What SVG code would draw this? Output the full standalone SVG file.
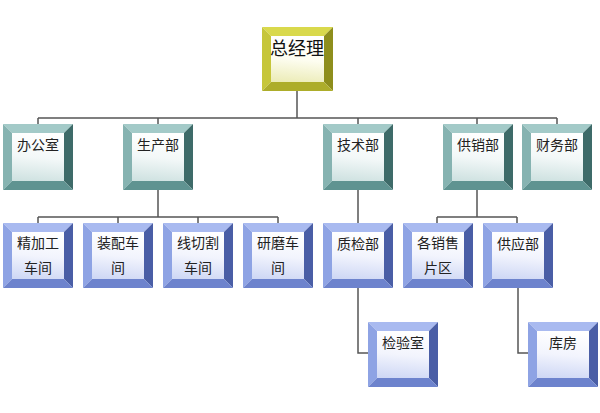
<svg xmlns="http://www.w3.org/2000/svg" xmlns:xlink="http://www.w3.org/1999/xlink" width="600" height="413" viewBox="0 0 600 413">
<defs>
<style>
.t{font-family:"Noto Sans CJK SC","Liberation Sans",sans-serif;font-size:14px;fill:#222;text-anchor:middle}
.tt{font-size:18px;fill:#111}
.c{fill:none;stroke:#555;stroke-width:1.5}
</style>
<linearGradient id="gy" x1="0.4" y1="0" x2="0.3" y2="1"><stop offset="0" stop-color="#ffffff"/><stop offset="0.5" stop-color="#fdfdf0"/><stop offset="1" stop-color="#ececb8"/></linearGradient>
<linearGradient id="gt" x1="0.4" y1="0" x2="0.3" y2="1"><stop offset="0" stop-color="#ffffff"/><stop offset="0.5" stop-color="#f3f8f8"/><stop offset="1" stop-color="#cfe2e1"/></linearGradient>
<linearGradient id="gb" x1="0.4" y1="0" x2="0.3" y2="1"><stop offset="0" stop-color="#ffffff"/><stop offset="0.5" stop-color="#f2f4fd"/><stop offset="1" stop-color="#cfd8f5"/></linearGradient>
<g id="ybox">
<polygon points="0,0 71,0 62,9 9,9" fill="#d9d94c"/>
<polygon points="0,0 9,9 9,55 0,64" fill="#c6c63a"/>
<polygon points="71,0 71,64 62,55 62,9" fill="#8e8e1c"/>
<polygon points="0,64 71,64 62,55 9,55" fill="#adad2a"/>
<rect x="9" y="9" width="53" height="46" fill="url(#gy)"/>
</g>
<g id="tbox">
<polygon points="0,0 70,0 61,9 9,9" fill="#a3cac8"/>
<polygon points="0,0 9,9 9,57 0,66" fill="#86b3b1"/>
<polygon points="70,0 70,66 61,57 61,9" fill="#3e6b69"/>
<polygon points="0,66 70,66 61,57 9,57" fill="#5f9391"/>
<rect x="9" y="9" width="52" height="48" fill="url(#gt)"/>
</g>
<g id="bbox">
<polygon points="0,0 70,0 61,9 9,9" fill="#a9baf0"/>
<polygon points="0,0 9,9 9,56 0,65" fill="#8ea3e4"/>
<polygon points="70,0 70,65 61,56 61,9" fill="#4a5ea6"/>
<polygon points="0,65 70,65 61,56 9,56" fill="#6d83cd"/>
<rect x="9" y="9" width="52" height="47" fill="url(#gb)"/>
</g>
</defs>
<rect width="600" height="413" fill="#ffffff"/>
<g id="connectors">
<path class="c" d="M297 91V118M38 118H557M38 118V124M158 118V124M358 118V124M477 118V124M557 118V124"/>
<path class="c" d="M158 190V217M38 217H278M38 217V223M118 217V223M198 217V223M278 217V223"/>
<path class="c" d="M358 190V223"/>
<path class="c" d="M477 190V217M437 217H517M437 217V223M517 217V223"/>
<path class="c" d="M358 288V353H368"/>
<path class="c" d="M518 288V353H528"/>
</g>
<g id="n-zjl" transform="translate(262,27)"><use xlink:href="#ybox"/><text class="t tt" x="35" y="28">总经理</text></g>
<g id="n-bgs" transform="translate(3,124)"><use xlink:href="#tbox"/><text class="t" x="35" y="26">办公室</text></g>
<g id="n-scb" transform="translate(123,124)"><use xlink:href="#tbox"/><text class="t" x="35" y="26">生产部</text></g>
<g id="n-jsb" transform="translate(323,124)"><use xlink:href="#tbox"/><text class="t" x="35" y="26">技术部</text></g>
<g id="n-gxb" transform="translate(443,124)"><use xlink:href="#tbox"/><text class="t" x="35" y="26">供销部</text></g>
<g id="n-cwb" transform="translate(522,124)"><use xlink:href="#tbox"/><text class="t" x="35" y="26">财务部</text></g>
<g id="n-jjg" transform="translate(3,223)"><use xlink:href="#bbox"/><text class="t" x="35" y="25">精加工</text><text class="t" x="35" y="50">车间</text></g>
<g id="n-zp" transform="translate(83,223)"><use xlink:href="#bbox"/><text class="t" x="35" y="25">装配车</text><text class="t" x="35" y="50">间</text></g>
<g id="n-xqg" transform="translate(163,223)"><use xlink:href="#bbox"/><text class="t" x="35" y="25">线切割</text><text class="t" x="35" y="50">车间</text></g>
<g id="n-ym" transform="translate(243,223)"><use xlink:href="#bbox"/><text class="t" x="35" y="25">研磨车</text><text class="t" x="35" y="50">间</text></g>
<g id="n-zjb" transform="translate(323,223)"><use xlink:href="#bbox"/><text class="t" x="35" y="26">质检部</text></g>
<g id="n-gxs" transform="translate(403,223)"><use xlink:href="#bbox"/><text class="t" x="35" y="25">各销售</text><text class="t" x="35" y="50">片区</text></g>
<g id="n-gyb" transform="translate(483,223)"><use xlink:href="#bbox"/><text class="t" x="35" y="26">供应部</text></g>
<g id="n-jys" transform="translate(368,322)"><use xlink:href="#bbox"/><text class="t" x="35" y="26">检验室</text></g>
<g id="n-kf" transform="translate(528,322)"><use xlink:href="#bbox"/><text class="t" x="35" y="26">库房</text></g>
</svg>
